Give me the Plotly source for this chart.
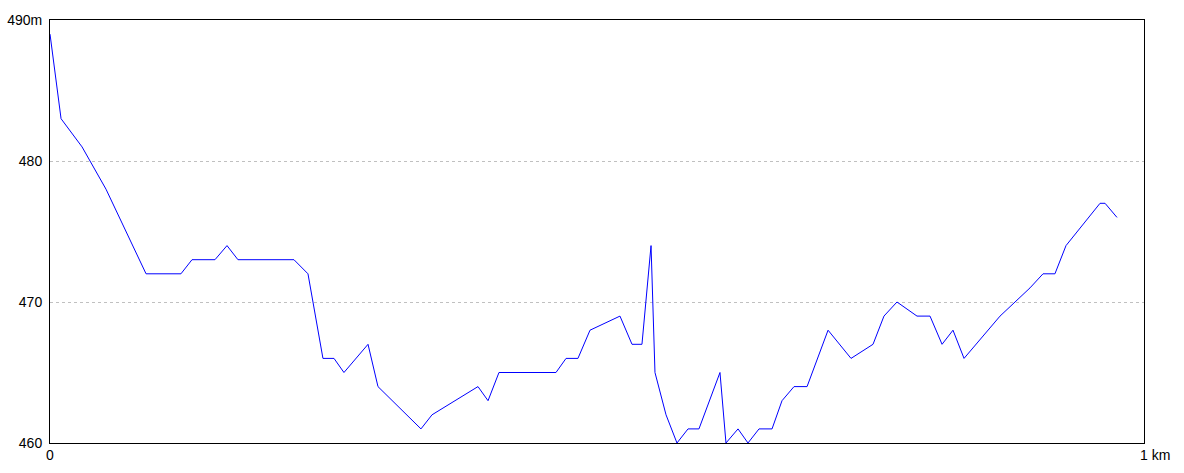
import plotly.graph_objects as go

# distance along route (km) and elevation (m)
distance_km = [0.0, 0.0101, 0.0293, 0.0512, 0.0878, 0.1197, 0.1298, 0.1508, 0.1618, 0.1718,
               0.2230, 0.2358, 0.2495, 0.2596, 0.2687, 0.2907, 0.2998, 0.3391, 0.3492, 0.3912,
               0.4004, 0.4104, 0.4625, 0.4717, 0.4826, 0.4936, 0.5210, 0.5320, 0.5411, 0.5494,
               0.5530, 0.5631, 0.5731, 0.5832, 0.5932, 0.6124, 0.6179, 0.6289, 0.6380, 0.6481,
               0.6600, 0.6691, 0.6801, 0.6920, 0.7112, 0.7322, 0.7523, 0.7623, 0.7742, 0.7925,
               0.8044, 0.8154, 0.8254, 0.8355, 0.8684, 0.8958, 0.9077, 0.9186, 0.9287, 0.9598,
               0.9644, 0.9753]
elevation_m = [489, 483, 481, 478, 472, 472, 473, 473, 474, 473,
               473, 472, 466, 466, 465, 467, 464, 461, 462, 464,
               463, 465, 465, 466, 466, 468, 469, 467, 467, 474,
               465, 462, 460, 461, 461, 465, 460, 461, 460, 461,
               461, 463, 464, 464, 468, 466, 467, 469, 470, 469,
               469, 467, 468, 466, 469, 471, 472, 472, 474, 477,
               477, 476]

y_ticks = [460, 470, 480, 490]
y_tick_text = ["460", "470", "480", "490m"]
x_labels = ["0", "1 km"]

FONT = "Liberation Sans, Arial, sans-serif"

fig = go.Figure()
fig.add_trace(go.Scatter(x=distance_km, y=elevation_m, mode="lines",
                         line=dict(color="#0000ff", width=1), hoverinfo="skip"))

fig.update_layout(
    width=1184, height=473,
    margin=dict(l=50, r=40, t=20, b=30, autoexpand=False),
    paper_bgcolor="white", plot_bgcolor="white",
    showlegend=False,
    font=dict(family=FONT, size=14, color="black"),
    xaxis=dict(range=[0, 1], showgrid=False, zeroline=False, showticklabels=False,
               showline=True, linecolor="black", linewidth=1, mirror=True, ticks="",
               automargin=False),
    yaxis=dict(range=[460, 490], tickvals=y_ticks, ticktext=y_tick_text,
               showgrid=True, gridcolor="#c0c0c0", griddash="3px,3px", gridwidth=1,
               zeroline=False, showline=True, linecolor="black", linewidth=1, mirror=True,
               ticks="", ticklabelstandoff=4, automargin=False,
               tickfont=dict(family=FONT, size=14, color="black")),
)

fig.add_annotation(x=0, y=0, xref="x", yref="paper", text=x_labels[0], showarrow=False,
                   xanchor="center", yanchor="top", yshift=-2,
                   font=dict(family=FONT, size=14, color="black"))
fig.add_annotation(x=1, y=0, xref="x", yref="paper", text=x_labels[1], showarrow=False,
                   xanchor="left", yanchor="top", yshift=-2, xshift=-6,
                   font=dict(family=FONT, size=14, color="black"))

fig.write_html("out.html", config={"displayModeBar": False, "staticPlot": True},
               post_script="document.body.style.margin='0';document.body.style.overflow='hidden';")
